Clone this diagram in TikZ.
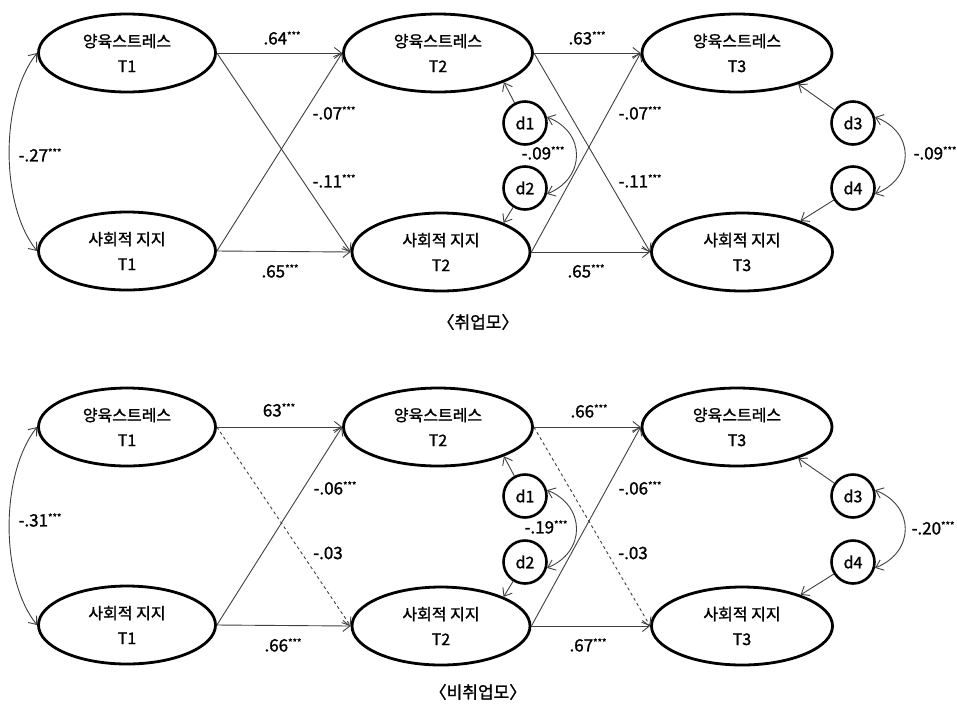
\documentclass[tikz,border=0pt]{standalone}
\usepackage{fontspec}
\setmainfont{Noto Sans CJK KR}[FakeBold=1.3]
\usetikzlibrary{shapes.geometric,arrows.meta}
\newcommand\sig{\raisebox{5.5pt}{\fontsize{9.5}{9}\selectfont ***}}
\begin{document}
\begin{tikzpicture}[x=1pt,y=-1pt,
  lat/.style={ellipse,draw,line width=2.8pt,minimum height=78pt,inner sep=0pt,align=center,font=\fontsize{16}{25}\selectfont},
  distnode/.style={circle,draw,line width=2.6pt,minimum size=43pt,inner sep=0pt,font=\fontsize{16}{18}\selectfont},
  arr/.style={draw=black!75,line width=0.9pt,-{Straight Barb[length=7pt,width=11pt]}},
  covarr/.style={draw=black!75,line width=0.9pt,{Straight Barb[length=7pt,width=11pt]}-{Straight Barb[length=7pt,width=11pt]}},
  lbl/.style={font=\fontsize{17}{18}\selectfont,inner sep=0pt},
  captext/.style={font=\fontsize{17}{18}\selectfont,inner sep=0pt}
]
\useasboundingbox[fill=white] (0,0) rectangle (957,705);

% ---------- top panel ----------
\node[lat,minimum width=177pt] (as1) at (127,53) {양육스트레스\\T1};
\node[lat,minimum width=177pt] (ap1) at (127,251) {사회적 지지\\T1};
\node[lat,minimum width=189pt] (as2) at (438,53) {양육스트레스\\T2};
\node[lat,minimum width=178pt] (ap2) at (441,252) {사회적 지지\\T2};
\node[lat,minimum width=190pt] (as3) at (737,53) {양육스트레스\\T3};
\node[lat,minimum width=181pt] (ap3) at (742,252) {사회적 지지\\T3};
\node[distnode] (ad1) at (525,123) {d1};
\node[distnode] (ad2) at (525,188) {d2};
\node[distnode] (ad3) at (853,123) {d3};
\node[distnode] (ad4) at (853,188) {d4};

\draw[arr] (as1.east) -- (as2.west);
\draw[arr] (as1.east) -- (ap2.west);
\draw[arr] (ap1.east) -- (as2.west);
\draw[arr] (ap1.east) -- (ap2.west);
\draw[arr] (as2.east) -- (as3.west);
\draw[arr] (as2.east) -- (ap3.west);
\draw[arr] (ap2.east) -- (as3.west);
\draw[arr] (ap2.east) -- (ap3.west);
\draw[arr] (ad1) -- (as2.-24);
\draw[arr] (ad2) -- (ap2.25);
\draw[arr] (ad3) -- (as3.-27);
\draw[arr] (ad4) -- (ap3.28);
\draw[covarr] (as1.west) .. controls (0,100) and (0,205) .. (ap1.west);
\draw[covarr] (ad1.15) .. controls (586,132) and (586,178) .. (ad2.-15);
\draw[covarr] (ad3.15) .. controls (915,132) and (915,178) .. (ad4.-15);

\node[lbl] (al1) at (282,38) {.64\sig};
\node[lbl] (al2) at (334,113) {-.07\sig};
\node[lbl] (al3) at (334,181) {-.11\sig};
\node[lbl] (al4) at (280,271) {.65\sig};
\node[lbl] (al5) at (40,155) {-.27\sig};
\node[lbl] (al6) at (587,38) {.63\sig};
\node[lbl] (al7) at (640,113) {-.07\sig};
\node[lbl] (al8) at (640,181) {-.11\sig};
\node[lbl] (al9) at (543,153) {-.09\sig};
\node[lbl] (al10) at (586,271) {.65\sig};
\node[lbl] (al11) at (935,153) {-.09\sig};
\node[captext] (cap1) at (478,322) {〈취업모〉};

% ---------- bottom panel ----------
\begin{scope}[shift={(0,374)}]
\node[lat,minimum width=177pt] (bs1) at (127,53) {양육스트레스\\T1};
\node[lat,minimum width=177pt] (bp1) at (127,251) {사회적 지지\\T1};
\node[lat,minimum width=189pt] (bs2) at (438,53) {양육스트레스\\T2};
\node[lat,minimum width=178pt] (bp2) at (441,252) {사회적 지지\\T2};
\node[lat,minimum width=190pt] (bs3) at (737,53) {양육스트레스\\T3};
\node[lat,minimum width=181pt] (bp3) at (742,252) {사회적 지지\\T3};
\node[distnode] (bd1) at (525,122) {d1};
\node[distnode] (bd2) at (525,188) {d2};
\node[distnode] (bd3) at (853,122) {d3};
\node[distnode] (bd4) at (853,188) {d4};

\draw[arr] (bs1.east) -- (bs2.west);
\draw[arr,dashed] (bs1.east) -- (bp2.west);
\draw[arr] (bp1.east) -- (bs2.west);
\draw[arr] (bp1.east) -- (bp2.west);
\draw[arr] (bs2.east) -- (bs3.west);
\draw[arr,dashed] (bs2.east) -- (bp3.west);
\draw[arr] (bp2.east) -- (bs3.west);
\draw[arr] (bp2.east) -- (bp3.west);
\draw[arr] (bd1) -- (bs2.-24);
\draw[arr] (bd2) -- (bp2.25);
\draw[arr] (bd3) -- (bs3.-27);
\draw[arr] (bd4) -- (bp3.28);
\draw[covarr] (bs1.west) .. controls (0,100) and (0,205) .. (bp1.west);
\draw[covarr] (bd1.15) .. controls (586,132) and (586,178) .. (bd2.-15);
\draw[covarr] (bd3.15) .. controls (915,132) and (915,178) .. (bd4.-15);

\node[lbl] (bl1) at (279,36) {63\sig};
\node[lbl] (bl2) at (335,114) {-.06\sig};
\node[lbl] (bl3) at (328,179) {-.03};
\node[lbl] (bl4) at (283,271) {.66\sig};
\node[lbl] (bl5) at (40,146) {-.31\sig};
\node[lbl] (bl6) at (589,37) {.66\sig};
\node[lbl] (bl7) at (640,114) {-.06\sig};
\node[lbl] (bl8) at (633,179) {-.03};
\node[lbl] (bl9) at (546,153) {-.19\sig};
\node[lbl] (bl10) at (588,271) {.67\sig};
\node[lbl] (bl11) at (933,154) {-.20\sig};
\end{scope}
\node[captext] (cap2) at (478,692) {〈비취업모〉};
\end{tikzpicture}
\end{document}
